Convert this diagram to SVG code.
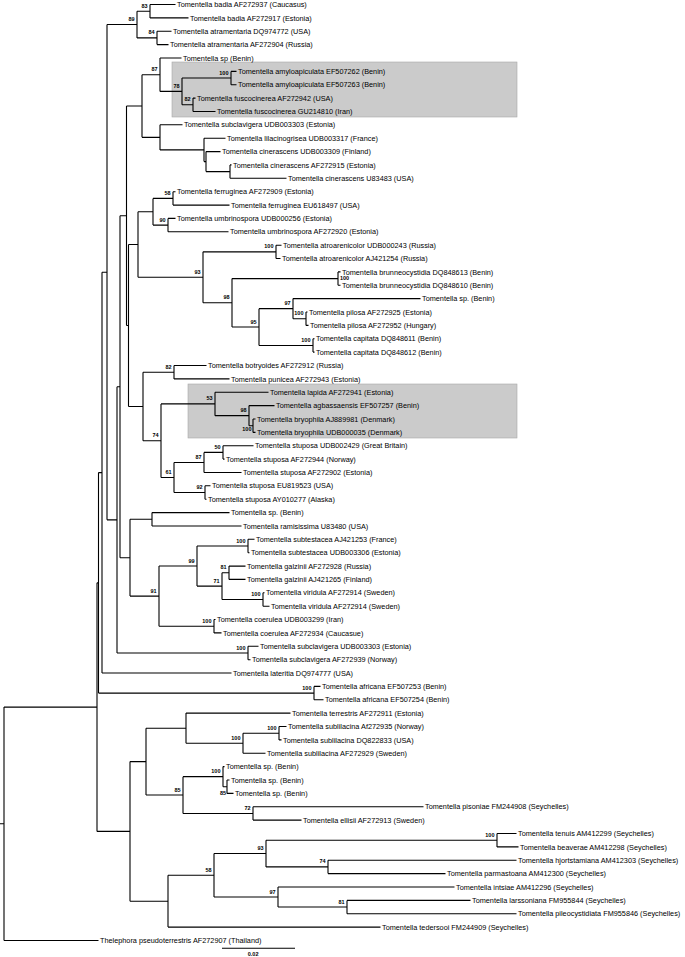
<svg xmlns="http://www.w3.org/2000/svg" width="685" height="957" viewBox="0 0 685 957">
<style>
.e{fill:none;stroke:#000;stroke-width:1.1}
.t{font-family:"Liberation Sans",Arial,sans-serif;font-size:7.3px;fill:#000}
.b{font-family:"Liberation Sans",Arial,sans-serif;font-size:5.5px;font-weight:bold;fill:#000;text-anchor:end}
.hl{fill:#cbcbcb;stroke:#a8a8a8;stroke-width:0.6}
</style>
<rect width="685" height="957" fill="#fff"/>
<g id="highlights">
<rect class="hl" x="172" y="62" width="345" height="55"/>
<rect class="hl" x="188" y="384" width="329" height="54"/>
</g>
<g id="connectors" class="e">
<path d="M150 4.5V17.9M150 4.5H175.5M150 17.9H188.5"/>
<path d="M157 31.2V44.6M157 31.2H171.5M157 44.6H168.5"/>
<path d="M137 11.2V37.9M137 11.2H150M137 37.9H157"/>
<path d="M231 71.4V84.7M231 71.4H236.5M231 84.7H236.5"/>
<path d="M193 98.1V111.5M193 98.1H195.5M193 111.5H215.5"/>
<path d="M182 78.05V104.8M182 78.05H231M182 104.8H193"/>
<path d="M160 58V91.4M160 58H181.5M160 91.4H182"/>
<path d="M230 164.9V178.3M230 164.9H231.5M230 178.3H286.5"/>
<path d="M206 151.6V171.6M206 151.6H220.5M206 171.6H230"/>
<path d="M204 138.2V161.6M204 138.2H225.5M204 161.6H206"/>
<path d="M160 124.8V149.9M160 124.8H182.5M160 149.9H204"/>
<path d="M142 74.7V137.35M142 74.7H160M142 137.35H160"/>
<path d="M173 191.7V205.1M173 191.7H175.5M173 205.1H229.5"/>
<path d="M168 218.4V231.8M168 218.4H175.5M168 231.8H228.5"/>
<path d="M153 198.4V225.1M153 198.4H173M153 225.1H168"/>
<path d="M276 245.2V258.5M276 245.2H281.5M276 258.5H280.5"/>
<path d="M338 271.9V285.3M338 271.9H340.5M338 285.3H340.5"/>
<path d="M306 312V325.4M306 312H307.5M306 325.4H308.5"/>
<path d="M293 298.6V318.7M293 298.6H420.5M293 318.7H306"/>
<path d="M313 338.8V352.1M313 338.8H314.5M313 352.1H314.5"/>
<path d="M259 308.65V345.45M259 308.65H293M259 345.45H313"/>
<path d="M232 278.6V327.05M232 278.6H338M232 327.05H259"/>
<path d="M203 251.85V302.8M203 251.85H276M203 302.8H232"/>
<path d="M138 211.75V277.3M138 211.75H153M138 277.3H203"/>
<path d="M174 365.5V378.9M174 365.5H206.5M174 378.9H229.5"/>
<path d="M253 419V432.4M253 419H255.5M253 432.4H255.5"/>
<path d="M249 405.6V425.7M249 405.6H274.5M249 425.7H253"/>
<path d="M215 392.2V415.65M215 392.2H268.5M215 415.65H249"/>
<path d="M223 445.7V459.1M223 445.7H253.5M223 459.1H224.5"/>
<path d="M204 452.4V472.5M204 452.4H223M204 472.5H241.5"/>
<path d="M205 485.8V499.2M205 485.8H210.5M205 499.2H206.5"/>
<path d="M174 462.45V492.5M174 462.45H204M174 492.5H205"/>
<path d="M161 403.9V477.5M161 403.9H215M161 477.5H174"/>
<path d="M143 372.2V440.7M143 372.2H174M143 440.7H161"/>
<path d="M128.5 244.5V406.45M128.5 244.5H138M128.5 406.45H143"/>
<path d="M126.5 106V325.5M126.5 106H142M126.5 325.5H128.5"/>
<path d="M152 512.6V526M152 512.6H229.5M152 526H241.5"/>
<path d="M248 539.3V552.7M248 539.3H254.5M248 552.7H249.5"/>
<path d="M229 566.1V579.4M229 566.1H245.5M229 579.4H245.5"/>
<path d="M263 592.8V606.2M263 592.8H264.5M263 606.2H269.5"/>
<path d="M222 572.75V599.5M222 572.75H229M222 599.5H263"/>
<path d="M197 546V586.1M197 546H248M197 586.1H222"/>
<path d="M214 619.5V632.9M214 619.5H215.5M214 632.9H221.5"/>
<path d="M159 566.05V626.2M159 566.05H197M159 626.2H214"/>
<path d="M130 519.3V596.1M130 519.3H152M130 596.1H159"/>
<path d="M120 215.75V557.7M120 215.75H126.5M120 557.7H130"/>
<path d="M248 646.3V659.7M248 646.3H258.5M248 659.7H250.5"/>
<path d="M117 386.7V653M117 386.7H120M117 653H248"/>
<path d="M107 24.55V519.85M107 24.55H137M107 519.85H117"/>
<path d="M102 272.2V673M102 272.2H107M102 673H231.5"/>
<path d="M314 686.4V699.8M314 686.4H320.5M314 699.8H323.5"/>
<path d="M98.5 472.6V693.1M98.5 472.6H102M98.5 693.1H314"/>
<path d="M279 726.5V739.9M279 726.5H286.5M279 739.9H281.5"/>
<path d="M243 733.2V753.3M243 733.2H279M243 753.3H265.5"/>
<path d="M186 713.1V743.25M186 713.1H290.5M186 743.25H243"/>
<path d="M227 780V793.4M227 780H229.5M227 793.4H233.5"/>
<path d="M223 766.6V786.7M223 766.6H224.5M223 786.7H227"/>
<path d="M253 806.8V820.1M253 806.8H423.5M253 820.1H301.5"/>
<path d="M183 776.65V813.45M183 776.65H223M183 813.45H253"/>
<path d="M146 728.2V795.05M146 728.2H186M146 795.05H183"/>
<path d="M497 833.5V846.9M497 833.5H516.5M497 846.9H518.5"/>
<path d="M328 860.2V873.6M328 860.2H516.5M328 873.6H445.5"/>
<path d="M266 840.2V866.9M266 840.2H497M266 866.9H328"/>
<path d="M347 900.4V913.7M347 900.4H470.5M347 913.7H516.5"/>
<path d="M278 887V907.05M278 887H454.5M278 907.05H347"/>
<path d="M214 853.55V897M214 853.55H266M214 897H278"/>
<path d="M168 875.3V927.1M168 875.3H214M168 927.1H380.5"/>
<path d="M130 761.6V901.2M130 761.6H146M130 901.2H168"/>
<path d="M97 582.85V831.4M97 582.85H98.5M97 831.4H130"/>
<path d="M4 707.1V940.5M4 707.1H97M4 940.5H98.5M0 823.8H4"/>
</g>
<g id="leaves" class="t">
<g id="leaf00"><text x="177" y="7.1">Tomentella badia AF272937 (Caucasus)</text></g>
<g id="leaf01"><text x="190" y="20.5">Tomentella badia AF272917 (Estonia)</text></g>
<g id="leaf02"><text x="173" y="33.8">Tomentella atramentaria DQ974772 (USA)</text></g>
<g id="leaf03"><text x="170" y="47.2">Tomentella atramentaria AF272904 (Russia)</text></g>
<g id="leaf04"><text x="183" y="60.6">Tomentella sp (Benin)</text></g>
<g id="leaf05"><text x="238" y="74">Tomentella amyloapiculata EF507262 (Benin)</text></g>
<g id="leaf06"><text x="238" y="87.3">Tomentella amyloapiculata EF507263 (Benin)</text></g>
<g id="leaf07"><text x="197" y="100.7">Tomentella fuscocinerea AF272942 (USA)</text></g>
<g id="leaf08"><text x="217" y="114.1">Tomentella fuscocinerea GU214810 (Iran)</text></g>
<g id="leaf09"><text x="184" y="127.4">Tomentella subclavigera UDB003303 (Estonia)</text></g>
<g id="leaf10"><text x="227" y="140.8">Tomentella lilacinogrisea UDB003317 (France)</text></g>
<g id="leaf11"><text x="222" y="154.2">Tomentella cinerascens UDB003309 (Finland)</text></g>
<g id="leaf12"><text x="233" y="167.5">Tomentella cinerascens AF272915 (Estonia)</text></g>
<g id="leaf13"><text x="288" y="180.9">Tomentella cinerascens U83483 (USA)</text></g>
<g id="leaf14"><text x="177" y="194.3">Tomentella ferruginea AF272909 (Estonia)</text></g>
<g id="leaf15"><text x="231" y="207.7">Tomentella ferruginea EU618497 (USA)</text></g>
<g id="leaf16"><text x="177" y="221">Tomentella umbrinospora UDB000256 (Estonia)</text></g>
<g id="leaf17"><text x="230" y="234.4">Tomentella umbrinospora AF272920 (Estonia)</text></g>
<g id="leaf18"><text x="283" y="247.8">Tomentella atroarenicolor UDB000243 (Russia)</text></g>
<g id="leaf19"><text x="282" y="261.1">Tomentella atroarenicolor AJ421254 (Russia)</text></g>
<g id="leaf20"><text x="342" y="274.5">Tomentella brunneocystidia DQ848613 (Benin)</text></g>
<g id="leaf21"><text x="342" y="287.9">Tomentella brunneocystidia DQ848610 (Benin)</text></g>
<g id="leaf22"><text x="422" y="301.2">Tomentella sp. (Benin)</text></g>
<g id="leaf23"><text x="309" y="314.6">Tomentella pilosa AF272925 (Estonia)</text></g>
<g id="leaf24"><text x="310" y="328">Tomentella pilosa AF272952 (Hungary)</text></g>
<g id="leaf25"><text x="316" y="341.4">Tomentella capitata DQ848611 (Benin)</text></g>
<g id="leaf26"><text x="316" y="354.7">Tomentella capitata DQ848612 (Benin)</text></g>
<g id="leaf27"><text x="208" y="368.1">Tomentella botryoides AF272912 (Russia)</text></g>
<g id="leaf28"><text x="231" y="381.5">Tomentella punicea AF272943 (Estonia)</text></g>
<g id="leaf29"><text x="270" y="394.8">Tomentella lapida AF272941 (Estonia)</text></g>
<g id="leaf30"><text x="276" y="408.2">Tomentella agbassaensis EF507257 (Benin)</text></g>
<g id="leaf31"><text x="257" y="421.6">Tomentella bryophila AJ889981 (Denmark)</text></g>
<g id="leaf32"><text x="257" y="435">Tomentella bryophila UDB000035 (Denmark)</text></g>
<g id="leaf33"><text x="255" y="448.3">Tomentella stuposa UDB002429 (Great Britain)</text></g>
<g id="leaf34"><text x="226" y="461.7">Tomentella stuposa AF272944 (Norway)</text></g>
<g id="leaf35"><text x="243" y="475.1">Tomentella stuposa AF272902 (Estonia)</text></g>
<g id="leaf36"><text x="212" y="488.4">Tomentella stuposa EU819523 (USA)</text></g>
<g id="leaf37"><text x="208" y="501.8">Tomentella stuposa AY010277 (Alaska)</text></g>
<g id="leaf38"><text x="231" y="515.2">Tomentella sp. (Benin)</text></g>
<g id="leaf39"><text x="243" y="528.6">Tomentella ramisissima U83480 (USA)</text></g>
<g id="leaf40"><text x="256" y="541.9">Tomentella subtestacea AJ421253 (France)</text></g>
<g id="leaf41"><text x="251" y="555.3">Tomentella subtestacea UDB003306 (Estonia)</text></g>
<g id="leaf42"><text x="247" y="568.7">Tomentella galzinii AF272928 (Russia)</text></g>
<g id="leaf43"><text x="247" y="582">Tomentella galzinii AJ421265 (Finland)</text></g>
<g id="leaf44"><text x="266" y="595.4">Tomentella viridula AF272914 (Sweden)</text></g>
<g id="leaf45"><text x="271" y="608.8">Tomentella viridula AF272914 (Sweden)</text></g>
<g id="leaf46"><text x="217" y="622.1">Tomentella coerulea UDB003299 (Iran)</text></g>
<g id="leaf47"><text x="223" y="635.5">Tomentella coerulea AF272934 (Caucasue)</text></g>
<g id="leaf48"><text x="260" y="648.9">Tomentella subclavigera UDB003303 (Estonia)</text></g>
<g id="leaf49"><text x="252" y="662.3">Tomentella subclavigera AF272939 (Norway)</text></g>
<g id="leaf50"><text x="233" y="675.6">Tomentella lateritia DQ974777 (USA)</text></g>
<g id="leaf51"><text x="322" y="689">Tomentella africana EF507253 (Benin)</text></g>
<g id="leaf52"><text x="325" y="702.4">Tomentella africana EF507254 (Benin)</text></g>
<g id="leaf53"><text x="292" y="715.7">Tomentella terrestris AF272911 (Estonia)</text></g>
<g id="leaf54"><text x="288" y="729.1">Tomentella sublilacina Af272935 (Norway)</text></g>
<g id="leaf55"><text x="283" y="742.5">Tomentella sublilacina DQ822833 (USA)</text></g>
<g id="leaf56"><text x="267" y="755.9">Tomentella sublilacina AF272929 (Sweden)</text></g>
<g id="leaf57"><text x="226" y="769.2">Tomentella sp. (Benin)</text></g>
<g id="leaf58"><text x="231" y="782.6">Tomentella sp. (Benin)</text></g>
<g id="leaf59"><text x="235" y="796">Tomentella sp. (Benin)</text></g>
<g id="leaf60"><text x="425" y="809.4">Tomentella pisoniae FM244908 (Seychelles)</text></g>
<g id="leaf61"><text x="303" y="822.7">Tomentella ellisii AF272913 (Sweden)</text></g>
<g id="leaf62"><text x="518" y="836.1">Tomentella tenuis AM412299 (Seychelles)</text></g>
<g id="leaf63"><text x="520" y="849.5">Tomentella beaverae AM412298 (Seychelles)</text></g>
<g id="leaf64"><text x="518" y="862.8">Tomentella hjortstamiana AM412303 (Seychelles)</text></g>
<g id="leaf65"><text x="447" y="876.2">Tomentella parmastoana AM412300 (Seychelles)</text></g>
<g id="leaf66"><text x="456" y="889.6">Tomentella intsiae AM412296 (Seychelles)</text></g>
<g id="leaf67"><text x="472" y="903">Tomentella larssoniana FM955844 (Seychelles)</text></g>
<g id="leaf68"><text x="518" y="916.3">Tomentella pileocystidiata FM955846 (Seychelles)</text></g>
<g id="leaf69"><text x="382" y="929.7">Tomentella tedersooi FM244909 (Seychelles)</text></g>
<g id="leaf70"><text x="100" y="943.1">Thelephora pseudoterrestris AF272907 (Thailand)</text></g>
</g>
<g id="support" class="b">
<text x="147.5" y="7.7">83</text>
<text x="154.5" y="34.4">84</text>
<text x="134.5" y="21">89</text>
<text x="157.5" y="71.2">87</text>
<text x="179.5" y="87.9">78</text>
<text x="228.5" y="74.5">100</text>
<text x="190.5" y="101.3">82</text>
<text x="170.5" y="194.9">58</text>
<text x="165.5" y="221.6">90</text>
<text x="273.5" y="248.3">100</text>
<text x="200.5" y="273.8">93</text>
<text x="229.5" y="299.3">98</text>
<text x="340" y="280" text-anchor="start">100</text>
<text x="290.5" y="305.2">97</text>
<text x="303.5" y="315.2">100</text>
<text x="256.5" y="323.5">95</text>
<text x="310.5" y="342">100</text>
<text x="171.5" y="368.7">82</text>
<text x="212.5" y="400.4">53</text>
<text x="246.5" y="412.2">98</text>
<text x="251.5" y="430.5">100</text>
<text x="158.5" y="437.2">74</text>
<text x="220.5" y="448.9">50</text>
<text x="201.5" y="459">87</text>
<text x="171.5" y="474">61</text>
<text x="202.5" y="489">92</text>
<text x="245.5" y="542.5">100</text>
<text x="194.5" y="562.5">99</text>
<text x="226.5" y="569.2">81</text>
<text x="219.5" y="582.6">71</text>
<text x="260.5" y="596">100</text>
<text x="156.5" y="592.6">91</text>
<text x="211.5" y="622.7">100</text>
<text x="245.5" y="649.5">100</text>
<text x="311.5" y="689.6">100</text>
<text x="276.5" y="729.7">100</text>
<text x="240.5" y="739.7">100</text>
<text x="220.5" y="773.1">100</text>
<text x="226" y="794.5">85</text>
<text x="180.5" y="791.5">85</text>
<text x="250.5" y="810">72</text>
<text x="494.5" y="836.7">100</text>
<text x="263.5" y="850">93</text>
<text x="325.5" y="863.4">74</text>
<text x="211.5" y="871.8">58</text>
<text x="275.5" y="893.5">97</text>
<text x="344.5" y="903.5">81</text>
</g>
<g id="scale">
<path class="e" d="M222 948.3H295"/>
<text class="b" x="258.5" y="956" text-anchor="middle">0.02</text>
</g>
</svg>
